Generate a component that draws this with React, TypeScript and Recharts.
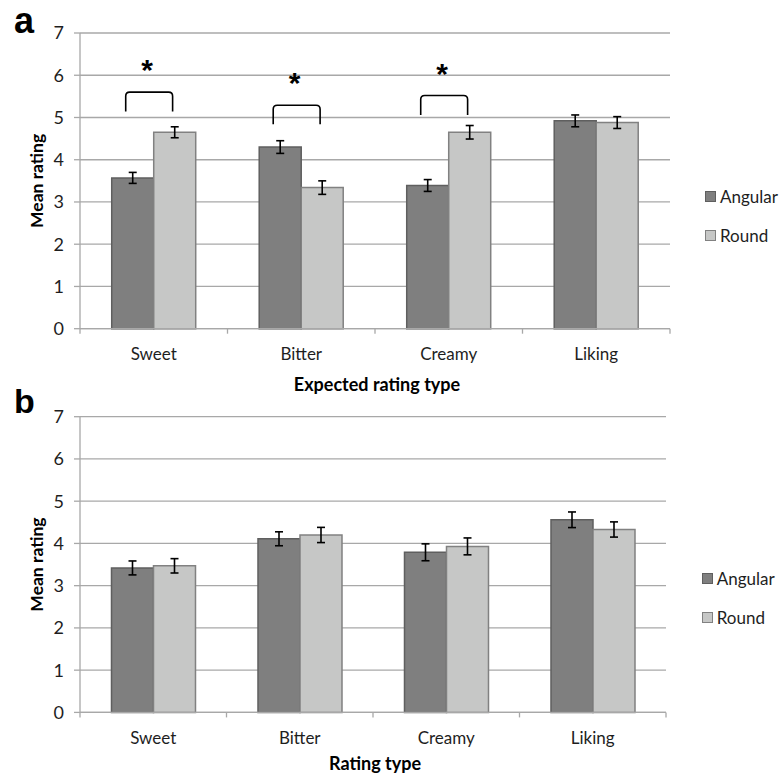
import React from 'react';
import { BarChart, Bar, XAxis, YAxis, CartesianGrid, ErrorBar, Legend, Label, Rectangle } from 'recharts';

// ---- data ----
const categories = ['Sweet', 'Bitter', 'Creamy', 'Liking'];
const seriesNames = ['Angular', 'Round'];

// panel a: expected ratings
const expectedAngular = [3.57, 4.3, 3.39, 4.92];
const expectedAngularErr = [0.13, 0.15, 0.14, 0.14];
const expectedRound = [4.65, 3.34, 4.65, 4.88];
const expectedRoundErr = [0.13, 0.16, 0.16, 0.14];

// panel b: actual ratings
const actualAngular = [3.42, 4.11, 3.79, 4.56];
const actualAngularErr = [0.165, 0.165, 0.2, 0.185];
const actualRound = [3.47, 4.2, 3.93, 4.33];
const actualRoundErr = [0.17, 0.18, 0.2, 0.18];

const yTicks = [0, 1, 2, 3, 4, 5, 6, 7];

// significance brackets in panel a (values in rating units)
const sigFlags = [true, true, true, false];
const bracketTop = [5.6, 5.29, 5.52, 0];
const bracketLegBottom = [5.14, 4.84, 5.06, 0];
const starLevel = [6.29, 5.98, 6.2, 0];

// ---- styles ----
const FONT = 'Lato, "Open Sans", sans-serif';
const fills = ['#7f7f7f', '#c6c7c6'];
const strokes = ['#5f5f5f', '#818181'];
const GRID = '#a8a8a8';

const buildData = (a: number[], ae: number[], r: number[], re: number[]) =>
  categories.map((c, i) => ({ name: c, angular: a[i], angularErr: ae[i], round: r[i], roundErr: re[i] }));

const dataA = buildData(expectedAngular, expectedAngularErr, expectedRound, expectedRoundErr);
const dataB = buildData(actualAngular, actualAngularErr, actualRound, actualRoundErr);

const makeAngularShape = (withBrackets: boolean) => (props: any) => {
  const { x, y, width, height, index, payload } = props;
  const rect = (
    <Rectangle x={x} y={y} width={width} height={height} fill={fills[0]} stroke={strokes[0]} strokeWidth={1.5} />
  );
  if (!withBrackets || !sigFlags[index]) return rect;
  const v = payload.angular;
  const ppu = height / v;
  const base = y + height;
  const toY = (val: number) => base - val * ppu;
  const x1 = x + width / 3;
  const x2 = x + width * 1.45;
  const yt = toY(bracketTop[index]);
  const yb = toY(bracketLegBottom[index]);
  const r = 4;
  const d = `M ${x1} ${yb} L ${x1} ${yt + r} Q ${x1} ${yt} ${x1 + r} ${yt} L ${x2 - r} ${yt} Q ${x2} ${yt} ${x2} ${yt + r} L ${x2} ${yb}`;
  const sy = toY(starLevel[index]);
  return (
    <g>
      {rect}
      <path d={d} fill="none" stroke="#000" strokeWidth={1.6} />
      <text x={x + width * 0.84} y={sy + 17} textAnchor="middle" fontFamily='"Liberation Sans", Arial, sans-serif' fontWeight={700} fontSize={30} fill="#000">
        *
      </text>
    </g>
  );
};

const RoundShape = (props: any) => {
  const { x, y, width, height } = props;
  return <Rectangle x={x} y={y} width={width} height={height} fill={fills[1]} stroke={strokes[1]} strokeWidth={1.5} />;
};

const CategoryTick = (props: any) => {
  const { x, y, payload, index, visibleTicksCount, width } = props;
  const half = payload && typeof payload.offset === 'number' && payload.offset > 0 ? payload.offset : width / visibleTicksCount / 2;
  return (
    <g>
      <line x1={x - half} y1={y} x2={x - half} y2={y + 5} stroke={GRID} strokeWidth={1.3} />
      {index === visibleTicksCount - 1 && (
        <line x1={x + half} y1={y} x2={x + half} y2={y + 5} stroke={GRID} strokeWidth={1.3} />
      )}
      <text x={x} y={y + 25} textAnchor="middle" dominantBaseline="central" fontFamily={FONT} fontSize={17} fill="#1e1e1e">
        {payload.value}
      </text>
    </g>
  );
};

const LegendBox = () => (
  <div style={{ fontFamily: FONT, fontSize: 17, color: '#1e1e1e' }}>
    {seriesNames.map((n, i) => (
      <div key={n} style={{ display: 'flex', alignItems: 'center', height: 20, marginBottom: i === 0 ? 19 : 0, whiteSpace: 'nowrap' }}>
        <span
          style={{
            display: 'inline-block',
            width: 9,
            height: 9,
            background: fills[i],
            border: `1.5px solid ${strokes[i]}`,
            marginRight: 4,
          }}
        />
        <span>{n}</span>
      </div>
    ))}
  </div>
);

type PanelProps = {
  data: any[];
  height: number;
  marginTop: number;
  marginRight: number;
  xTitle: string;
  xTitleOffset: number;
  withBrackets: boolean;
  legendLeft: number;
  legendTop: number;
};

const Panel = ({ data, height, marginTop, marginRight, xTitle, xTitleOffset, withBrackets, legendLeft, legendTop }: PanelProps) => {
  const xAxisHeight = height - marginTop - 295.7;
  return (
    <BarChart
      width={782}
      height={height}
      data={data}
      margin={{ top: marginTop, right: marginRight, left: 0, bottom: 0 }}
      barCategoryGap="21.5%"
      barGap={0}
    >
      <CartesianGrid vertical={false} stroke={GRID} strokeWidth={1.3} />
      <XAxis
        dataKey="name"
        height={xAxisHeight}
        stroke={GRID}
        strokeWidth={1.3}
        tickLine={false}
        tickSize={0}
        tickMargin={0}
        interval={0}
        tick={<CategoryTick />}
      >
        <Label
          content={(p: any) => {
            const vb = p.viewBox || { x: 80, y: 0, width: 590 };
            return (
              <text
                x={vb.x + vb.width / 2 + 2}
                y={vb.y + xTitleOffset}
                textAnchor="middle"
                dominantBaseline="central"
                fontFamily={FONT}
                fontWeight={700}
                fontSize={18}
                fill="#000"
              >
                {xTitle}
              </text>
            );
          }}
        />
      </XAxis>
      <YAxis
        width={80}
        domain={[0, 7]}
        ticks={yTicks}
        interval={0}
        stroke={GRID}
        strokeWidth={1.3}
        tickSize={6}
        tickMargin={10}
        tick={{ fill: '#1e1e1e', fontSize: 18, fontFamily: FONT }}
      >
        <Label
          content={(p: any) => {
            const vb = p.viewBox || { x: 0, y: marginTop, width: 80, height: 295.7 };
            const cx = vb.x + 36.7;
            const cy = vb.y + vb.height / 2;
            return (
              <text
                x={cx}
                y={cy}
                transform={`rotate(-90 ${cx} ${cy})`}
                textAnchor="middle"
                dominantBaseline="central"
                fontFamily={FONT}
                fontWeight={700}
                fontSize={17.5}
                fill="#000"
              >
                Mean rating
              </text>
            );
          }}
        />
      </YAxis>
      <Legend
        layout="vertical"
        align="center"
        verticalAlign="middle"
        content={<LegendBox />}
        wrapperStyle={{ left: legendLeft, top: legendTop, width: 'auto', height: 'auto' }}
      />
      <Bar dataKey="angular" name={seriesNames[0]} fill={fills[0]} isAnimationActive={false} shape={makeAngularShape(withBrackets)}>
        <ErrorBar dataKey="angularErr" width={4} stroke="#000" strokeWidth={1.6} />
      </Bar>
      <Bar dataKey="round" name={seriesNames[1]} fill={fills[1]} isAnimationActive={false} shape={RoundShape}>
        <ErrorBar dataKey="roundErr" width={4} stroke="#000" strokeWidth={1.6} />
      </Bar>
    </BarChart>
  );
};

export default function App() {
  return (
    <div style={{ position: 'absolute', left: 0, top: 0, width: 782, height: 776, background: '#fff', overflow: 'hidden' }}>
      <div style={{ position: 'absolute', left: 0, top: 0 }}>
        <Panel
          data={dataA}
          height={400}
          marginTop={33}
          marginRight={112}
          xTitle="Expected rating type"
          xTitleOffset={55}
          withBrackets={true}
          legendLeft={705}
          legendTop={186}
        />
      </div>
      <div style={{ position: 'absolute', left: 0, top: 380 }}>
        <Panel
          data={dataB}
          height={396}
          marginTop={36.7}
          marginRight={116}
          xTitle="Rating type"
          xTitleOffset={51}
          withBrackets={false}
          legendLeft={701.7}
          legendTop={188.7}
        />
      </div>
      <svg width={782} height={776} style={{ position: 'absolute', left: 0, top: 0, pointerEvents: 'none' }}>
        <text x={14} y={33} fontFamily='"Liberation Sans", Arial, sans-serif' fontWeight={700} fontSize={36} fill="#000">
          a
        </text>
        <text x={14} y={413} fontFamily='"Liberation Sans", Arial, sans-serif' fontWeight={700} fontSize={34} fill="#000">
          b
        </text>
      </svg>
    </div>
  );
}
